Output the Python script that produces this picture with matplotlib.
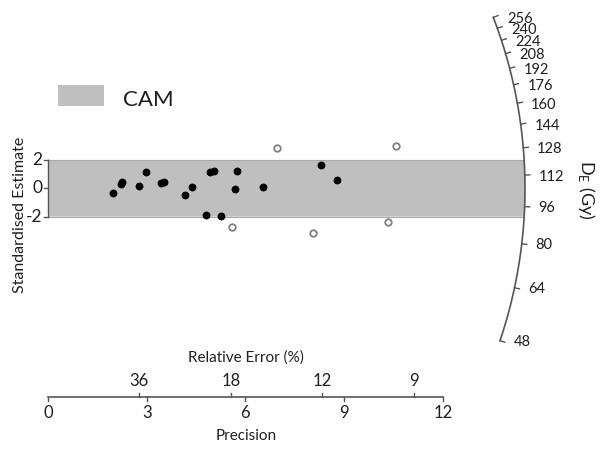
import numpy as np
import matplotlib
matplotlib.use('Agg')
import matplotlib.pyplot as plt
from matplotlib.patches import Polygon, Rectangle

plt.rcParams['font.family'] = ['Lato', 'DejaVu Sans']

# ---- data ----
filled_precision = [1.97, 2.21, 2.26, 2.76, 2.99, 3.43, 3.53, 4.155, 4.37, 4.80,
                    4.93, 5.05, 5.26, 5.68, 5.74, 6.52, 8.30, 8.78]
filled_std = [-0.31, 0.27, 0.43, 0.13, 1.17, 0.37, 0.43, -0.44, 0.06, -1.86,
              1.13, 1.19, -1.94, -0.07, 1.24, 0.07, 1.62, 0.56]
open_precision = [5.58, 6.95, 8.05, 10.32, 10.57]
open_std = [-2.70, 2.82, -3.13, -2.38, 3.01]
central_de = 105.0
arc_ticks = [48, 64, 80, 96, 112, 128, 144, 160, 176, 192, 208, 224, 240, 256]
precision_ticks = [0, 3, 6, 9, 12]
rel_error_ticks = [36, 18, 12, 9]
band_limits = [-2, 2]
std_ticks = [2, 0, -2]

# ---- layout (pixel geometry) ----
W, H = 607, 451
X0, Y0 = 48.0, 188.3      # pixel of origin (from top-left)
SX, SY = 32.9, 14.17      # pixels per data unit
R = 477.0                 # arc radius in pixels

def dx(px):
    return (px - X0) / SX

def dy(py):
    return (Y0 - py) / SY

fig = plt.figure(figsize=(W / 100, H / 100), dpi=100)
ax = fig.add_axes([0, 0, 1, 1])
ax.set_xlim(dx(0), dx(W))
ax.set_ylim(dy(H), dy(0))
ax.axis('off')

line_col = '#555555'
txt_col = '#1f1f1f'

def arc_theta(de):
    s = np.log(de / central_de)
    return np.arctan2(SY * s, SX)

def arc_xy(theta, r=R):
    return r * np.cos(theta) / SX, r * np.sin(theta) / SY

# ---- band ----
tb = np.arcsin(band_limits[1] * SY / R)
th = np.linspace(tb, -tb, 50)
ax_, ay_ = arc_xy(th)
poly = [(0, band_limits[1])] + list(zip(ax_, ay_)) + [(0, band_limits[0])]
ax.add_patch(Polygon(poly, closed=True, facecolor='#bfbfbf', edgecolor='none', zorder=1))
for yb in band_limits:
    ax.plot([0, arc_xy(tb)[0]], [yb, yb], color='#a9a9a9', lw=0.8, zorder=1.5)

# ---- arc ----
t0, t1 = arc_theta(min(arc_ticks)), arc_theta(max(arc_ticks))
th = np.linspace(t0, t1, 300)
axc, ayc = arc_xy(th)
ax.plot(axc, ayc, color=line_col, lw=1.2, zorder=3)
for de in arc_ticks:
    t = arc_theta(de)
    xa, ya = arc_xy(t)
    xb, yb = arc_xy(t, R + 5)
    ax.plot([xa, xb], [ya, yb], color=line_col, lw=1.0, zorder=3)
    ax.annotate(str(de), (xa, ya), xytext=(10, 0), textcoords='offset points',
                ha='left', va='center_baseline', fontsize=10.5, color=txt_col)

ax.text(dx(586), dy(190), r'D$_\mathregular{E}$ (Gy)', rotation=270,
        ha='center', va='center', fontsize=13, color=txt_col)

# ---- points ----
ax.scatter(filled_precision, filled_std, s=32, color='black', zorder=5, linewidths=0)
ax.scatter(open_precision, open_std, s=22, facecolor='white', edgecolor='#808080',
           linewidths=1.3, zorder=5)

# ---- left axis ----
ax.plot([0, 0], band_limits, color=line_col, lw=1.0, zorder=3)
for v in std_ticks:
    ax.plot([dx(X0 - 4), 0], [v, v], color=line_col, lw=1.0, zorder=3)
    ax.text(dx(42.5), v, str(v), ha='right', va='center', fontsize=12.5, color=txt_col)
ax.text(dx(20), dy(215), 'Standardised Estimate', rotation=90, ha='center',
        va='center', fontsize=11.5, color=txt_col)

# ---- bottom axis ----
yax = dy(397)
ax.plot([0, max(precision_ticks)], [yax, yax], color=line_col, lw=1.2)
for p in precision_ticks:
    ax.plot([p, p], [yax, yax - 4 / SY], color=line_col, lw=1.0)
    ax.text(p, dy(413), str(p), ha='center', va='center', fontsize=12, color=txt_col)
for re in rel_error_ticks:
    p = 100.0 / re
    ax.plot([p, p], [yax, yax + 4 / SY], color=line_col, lw=1.0)
    ax.text(p, dy(381), str(re), ha='center', va='center', fontsize=12, color=txt_col)
ax.text(dx(246), dy(358), 'Relative Error (%)', ha='center', va='center',
        fontsize=11, color=txt_col)
ax.text(dx(246), dy(436), 'Precision', ha='center', va='center',
        fontsize=11, color=txt_col)

# ---- legend ----
ax.add_patch(Rectangle((dx(58), dy(106)), dx(104) - dx(58), dy(85) - dy(106),
                       facecolor='#bfbfbf', edgecolor='none'))
ax.text(dx(123), dy(100), 'CAM', ha='left', va='center', fontsize=16, color=txt_col)

fig.savefig('out.png', dpi=100)
